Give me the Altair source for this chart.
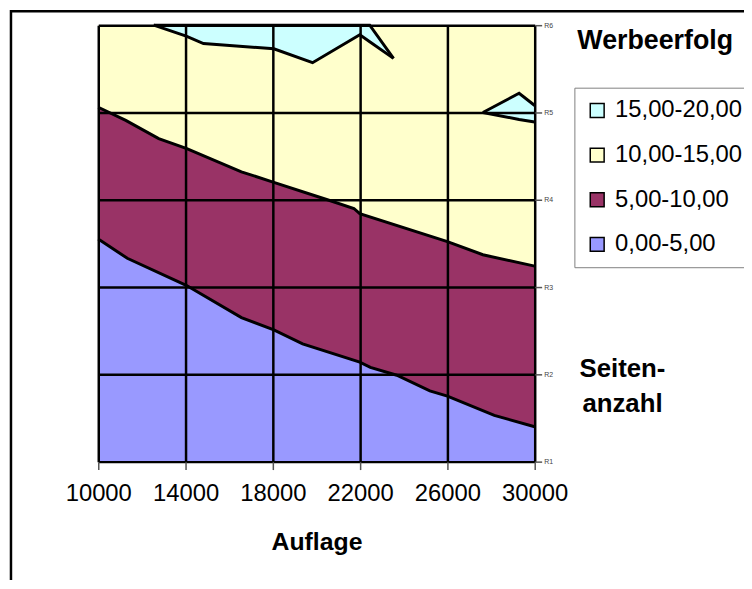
import altair as alt
import pandas as pd

# ---- data ----
X_TICKS = [10000, 14000, 18000, 22000, 26000, 30000]
Y_TICKS = [1, 2, 3, 4, 5, 6]
BANDS = ["15,00-20,00", "10,00-15,00", "5,00-10,00", "0,00-5,00"]
COLORS = ["#CCFFFF", "#FFFFCC", "#993366", "#9999FF"]

# boundary between 0-5 and 5-10
B5_X = [10000, 11330, 14030, 16560, 18045, 19365, 21985, 22470, 23680, 25195, 26000, 28150, 30000]
B5_Y = [3.55, 3.33, 3.02, 2.65, 2.51, 2.35, 2.14, 2.08, 1.99, 1.81, 1.75, 1.53, 1.40]

# boundary between 5-10 and 10-15
B10_X = [10000, 11260, 12770, 14030, 16560, 18045, 20500, 21715, 21985, 26000, 27625, 30000]
B10_Y = [5.06, 4.91, 4.70, 4.59, 4.32, 4.20, 4.00, 3.90, 3.84, 3.52, 3.37, 3.24]

# 15-20 patches
CT_X = [12545, 14030, 14820, 18045, 19820, 21985, 22440, 23530]
CT_LO = [6.0, 5.875, 5.79, 5.73, 5.57, 5.89, 5.81, 5.62]
CT_HI = [6.0, 6.0, 6.0, 6.0, 6.0, 6.0, 6.0, 5.62]

CR_X = [27625, 29285, 30000]
CR_LO = [5.00, 4.92, 4.89]
CR_HI = [5.00, 5.22, 5.08]

FONT = "Liberation Sans"

yellow = pd.DataFrame({"x": [10000, 30000], "lo": [1, 1], "hi": [6, 6], "band": BANDS[1], "shape": "y"})
maroon = pd.DataFrame({"x": B10_X, "lo": 1, "hi": B10_Y, "band": BANDS[2], "shape": "m"})
blue = pd.DataFrame({"x": B5_X, "lo": 1, "hi": B5_Y, "band": BANDS[3], "shape": "b"})
cyan = pd.concat([
    pd.DataFrame({"x": CT_X, "lo": CT_LO, "hi": CT_HI, "band": BANDS[0], "shape": "c1"}),
    pd.DataFrame({"x": CR_X, "lo": CR_LO, "hi": CR_HI, "band": BANDS[0], "shape": "c2"}),
])

lines = pd.concat([
    pd.DataFrame({"x": B10_X, "y": B10_Y, "seg": "b10"}),
    pd.DataFrame({"x": B5_X, "y": B5_Y, "seg": "b5"}),
    pd.DataFrame({"x": CT_X, "y": CT_LO, "seg": "ctlo"}),
    pd.DataFrame({"x": CT_X, "y": CT_HI, "seg": "cthi"}),
    pd.DataFrame({"x": CR_X, "y": CR_LO, "seg": "crlo"}),
    pd.DataFrame({"x": CR_X, "y": CR_HI, "seg": "crhi"}),
])

xscale = alt.Scale(domain=[10000, 30000], nice=False, zero=False)
yscale = alt.Scale(domain=[1, 6], nice=False, zero=False)

xaxis = alt.Axis(
    values=X_TICKS, format="d", grid=True, gridColor="black", gridWidth=2.5, gridOpacity=1,
    domain=False, tickColor="#555555", tickSize=8, tickWidth=1.5,
    labelFontSize=24, labelFont=FONT, labelColor="black", labelPadding=12,
    labelFlush=False, labelOverlap=False,
    title="Auflage", titleFont=FONT, titleFontSize=25, titleFontWeight="bold",
    titleColor="black", titleBaseline="alphabetic", titleY=89, zindex=1,
)
yaxis = alt.Axis(
    orient="right", values=Y_TICKS, labelExpr="'R' + datum.value",
    grid=True, gridColor="black", gridWidth=2.5, gridOpacity=1,
    domain=False, tickColor="#555555", tickSize=7, tickWidth=1.5,
    labelFontSize=7, labelFont=FONT, labelColor="#444444", labelPadding=2,
    title=["Seiten-", "anzahl"], titleFont=FONT, titleFontSize=26,
    titleFontWeight="bold", titleColor="black", titleAngle=0, titleAlign="center",
    titleBaseline="alphabetic", titleX=88, titleY=354, titleLineHeight=35, zindex=1,
)

legend = alt.Legend(
    title=None, orient="none", legendX=480, legendY=63,
    symbolType="square", symbolSize=196, symbolStrokeColor="black",
    symbolStrokeWidth=1.5, symbolOpacity=1,
    labelFontSize=24, labelFont=FONT, labelColor="black", labelOffset=6,
    rowPadding=21, padding=11, strokeColor="#808080", labelLimit=300,
)
color = alt.Color("band:N", scale=alt.Scale(domain=BANDS, range=COLORS), legend=legend)


def area_layer(df):
    return alt.Chart(df).mark_area(opacity=1).encode(
        x=alt.X("x:Q", scale=xscale, axis=xaxis),
        y=alt.Y("lo:Q", scale=yscale, axis=yaxis, stack=None),
        y2="hi:Q",
        color=color,
        detail="shape:N",
    )


frame = alt.Chart(pd.DataFrame({"a": [0]})).mark_rect(
    fillOpacity=0, stroke="black", strokeWidth=2.5
).encode(x=alt.value(-88), x2=alt.value(800), y=alt.value(-14), y2=alt.value(700))

contour_lines = alt.Chart(lines).mark_line(color="black", strokeWidth=3).encode(
    x=alt.X("x:Q", scale=xscale),
    y=alt.Y("y:Q", scale=yscale),
    detail="seg:N",
)

title_text = alt.Chart(pd.DataFrame({"t": ["Werbeerfolg"]})).mark_text(
    font=FONT, fontSize=27, fontWeight="bold", align="left", baseline="alphabetic", color="black"
).encode(x=alt.value(483), y=alt.value(24), text="t:N")

chart = alt.layer(
    frame, area_layer(yellow), area_layer(maroon), area_layer(blue), area_layer(cyan),
    contour_lines, title_text,
).properties(
    width=440, height=440,
    autosize=alt.AutoSizeParams(type="none"),
    padding={"left": 91, "top": 15, "right": 211, "bottom": 117},
).configure_view(stroke="black", strokeWidth=2.5).configure(font=FONT)

chart.save("out.html", embed_options={"renderer": "svg", "actions": False})
